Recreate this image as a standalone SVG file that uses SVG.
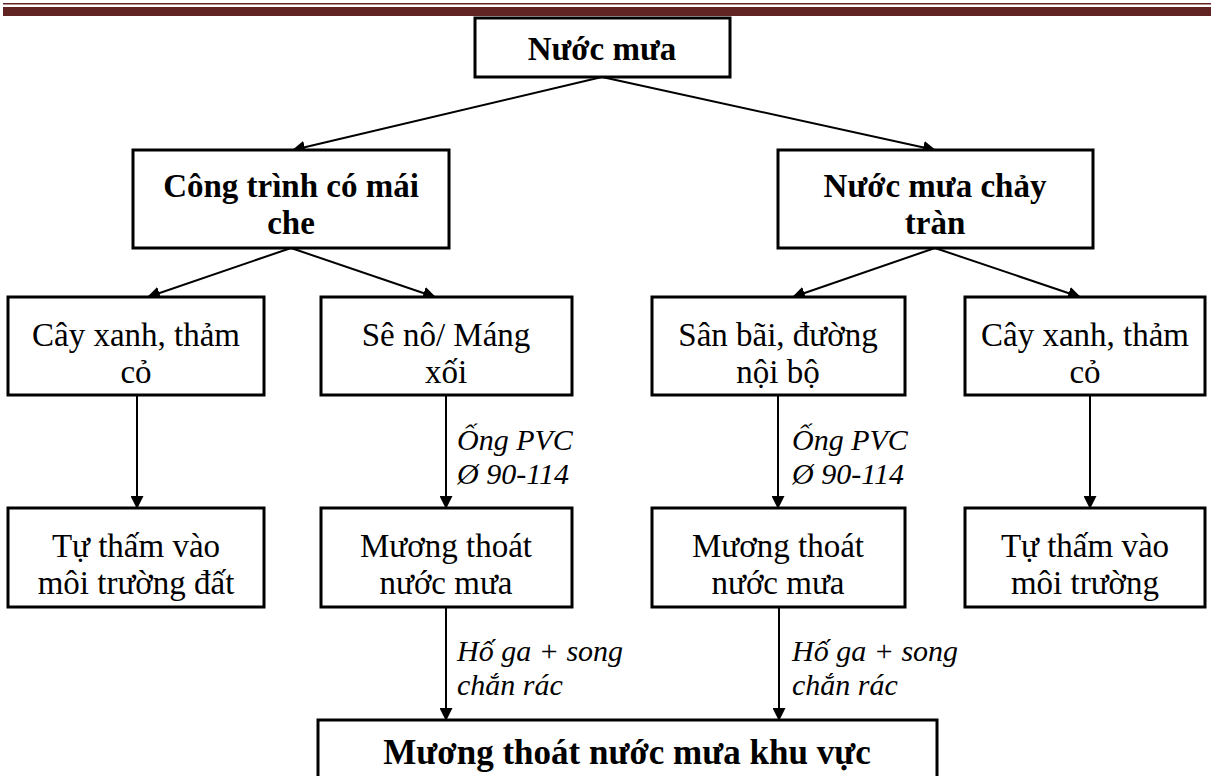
<svg xmlns="http://www.w3.org/2000/svg" width="1211" height="776" viewBox="0 0 1211 776">
<defs>
<marker id="ah" markerWidth="13" markerHeight="13" refX="12" refY="6.5" orient="auto" markerUnits="userSpaceOnUse">
<path d="M0,0 L13,6.5 L0,13 Z" fill="#000"/>
</marker>
<style>
.box{fill:#fff;stroke:#000;stroke-width:3}
.t{font-family:"Liberation Serif","Times New Roman",serif;font-size:33px;fill:#000;text-anchor:middle}
.b{font-weight:bold}
.big{font-size:35px}
.i{font-family:"Liberation Serif","Times New Roman",serif;font-size:30px;font-style:italic;fill:#000}
.c{stroke:#000;stroke-width:2;fill:none;marker-end:url(#ah)}
</style>
</defs>
<rect x="0" y="0" width="1211" height="776" fill="#fff"/>
<g id="header">
<rect x="3" y="3" width="1208" height="1.5" fill="#622423"/>
<rect x="3" y="7" width="1208" height="9" fill="#622423"/>
</g>
<g id="connectors">
<line class="c" x1="602" y1="77" x2="293" y2="150"/>
<line class="c" x1="602" y1="77" x2="935" y2="150"/>
<line class="c" x1="291" y1="248" x2="148" y2="297"/>
<line class="c" x1="291" y1="248" x2="435" y2="297"/>
<line class="c" x1="935" y1="248" x2="793" y2="297"/>
<line class="c" x1="935" y1="248" x2="1080" y2="297"/>
<line class="c" x1="137" y1="395" x2="137" y2="508"/>
<line class="c" x1="446" y1="395" x2="446" y2="508"/>
<line class="c" x1="778" y1="395" x2="778" y2="508"/>
<line class="c" x1="1090" y1="395" x2="1090" y2="508"/>
<line class="c" x1="446" y1="607" x2="446" y2="720"/>
<line class="c" x1="779" y1="607" x2="779" y2="720"/>
<text class="i" x="457" y="450">Ống PVC</text>
<text class="i" x="457" y="484">Ø 90-114</text>
<text class="i" x="792" y="450">Ống PVC</text>
<text class="i" x="792" y="484">Ø 90-114</text>
<text class="i" x="457" y="661">Hố ga + song</text>
<text class="i" x="457" y="695">chắn rác</text>
<text class="i" x="792" y="661">Hố ga + song</text>
<text class="i" x="792" y="695">chắn rác</text>
</g>
<g id="n-nuoc-mua">
<rect class="box" x="475" y="18" width="255" height="59"/>
<text class="t b" x="602" y="60">Nước mưa</text>
</g>
<g id="n-cong-trinh">
<rect class="box" x="133" y="150" width="316" height="98"/>
<text class="t b" x="291" y="197">Công trình có mái</text>
<text class="t b" x="291" y="234">che</text>
</g>
<g id="n-chay-tran">
<rect class="box" x="778" y="150" width="315" height="98"/>
<text class="t b" x="935" y="197">Nước mưa chảy</text>
<text class="t b" x="935" y="234">tràn</text>
</g>
<g id="n-cay-xanh-1">
<rect class="box" x="8" y="297" width="256" height="98"/>
<text class="t" x="136" y="346">Cây xanh, thảm</text>
<text class="t" x="136" y="383">cỏ</text>
</g>
<g id="n-se-no">
<rect class="box" x="321" y="297" width="251" height="98"/>
<text class="t" x="446" y="346">Sê nô/ Máng</text>
<text class="t" x="446" y="383">xối</text>
</g>
<g id="n-san-bai">
<rect class="box" x="652" y="297" width="253" height="98"/>
<text class="t" x="778" y="346">Sân bãi, đường</text>
<text class="t" x="778" y="383">nội bộ</text>
</g>
<g id="n-cay-xanh-2">
<rect class="box" x="965" y="297" width="240" height="98"/>
<text class="t" x="1085" y="346">Cây xanh, thảm</text>
<text class="t" x="1085" y="383">cỏ</text>
</g>
<g id="n-tu-tham-1">
<rect class="box" x="8" y="508" width="256" height="99"/>
<text class="t" x="136" y="557">Tự thấm vào</text>
<text class="t" x="136" y="594">môi trường đất</text>
</g>
<g id="n-muong-1">
<rect class="box" x="321" y="508" width="251" height="99"/>
<text class="t" x="446" y="557">Mương thoát</text>
<text class="t" x="446" y="594">nước mưa</text>
</g>
<g id="n-muong-2">
<rect class="box" x="652" y="508" width="253" height="99"/>
<text class="t" x="778" y="557">Mương thoát</text>
<text class="t" x="778" y="594">nước mưa</text>
</g>
<g id="n-tu-tham-2">
<rect class="box" x="965" y="508" width="240" height="99"/>
<text class="t" x="1085" y="557">Tự thấm vào</text>
<text class="t" x="1085" y="594">môi trường</text>
</g>
<g id="n-muong-khu-vuc">
<rect class="box" x="318" y="720" width="619" height="70"/>
<text class="t b big" x="627" y="764">Mương thoát nước mưa khu vực</text>
</g>
</svg>
